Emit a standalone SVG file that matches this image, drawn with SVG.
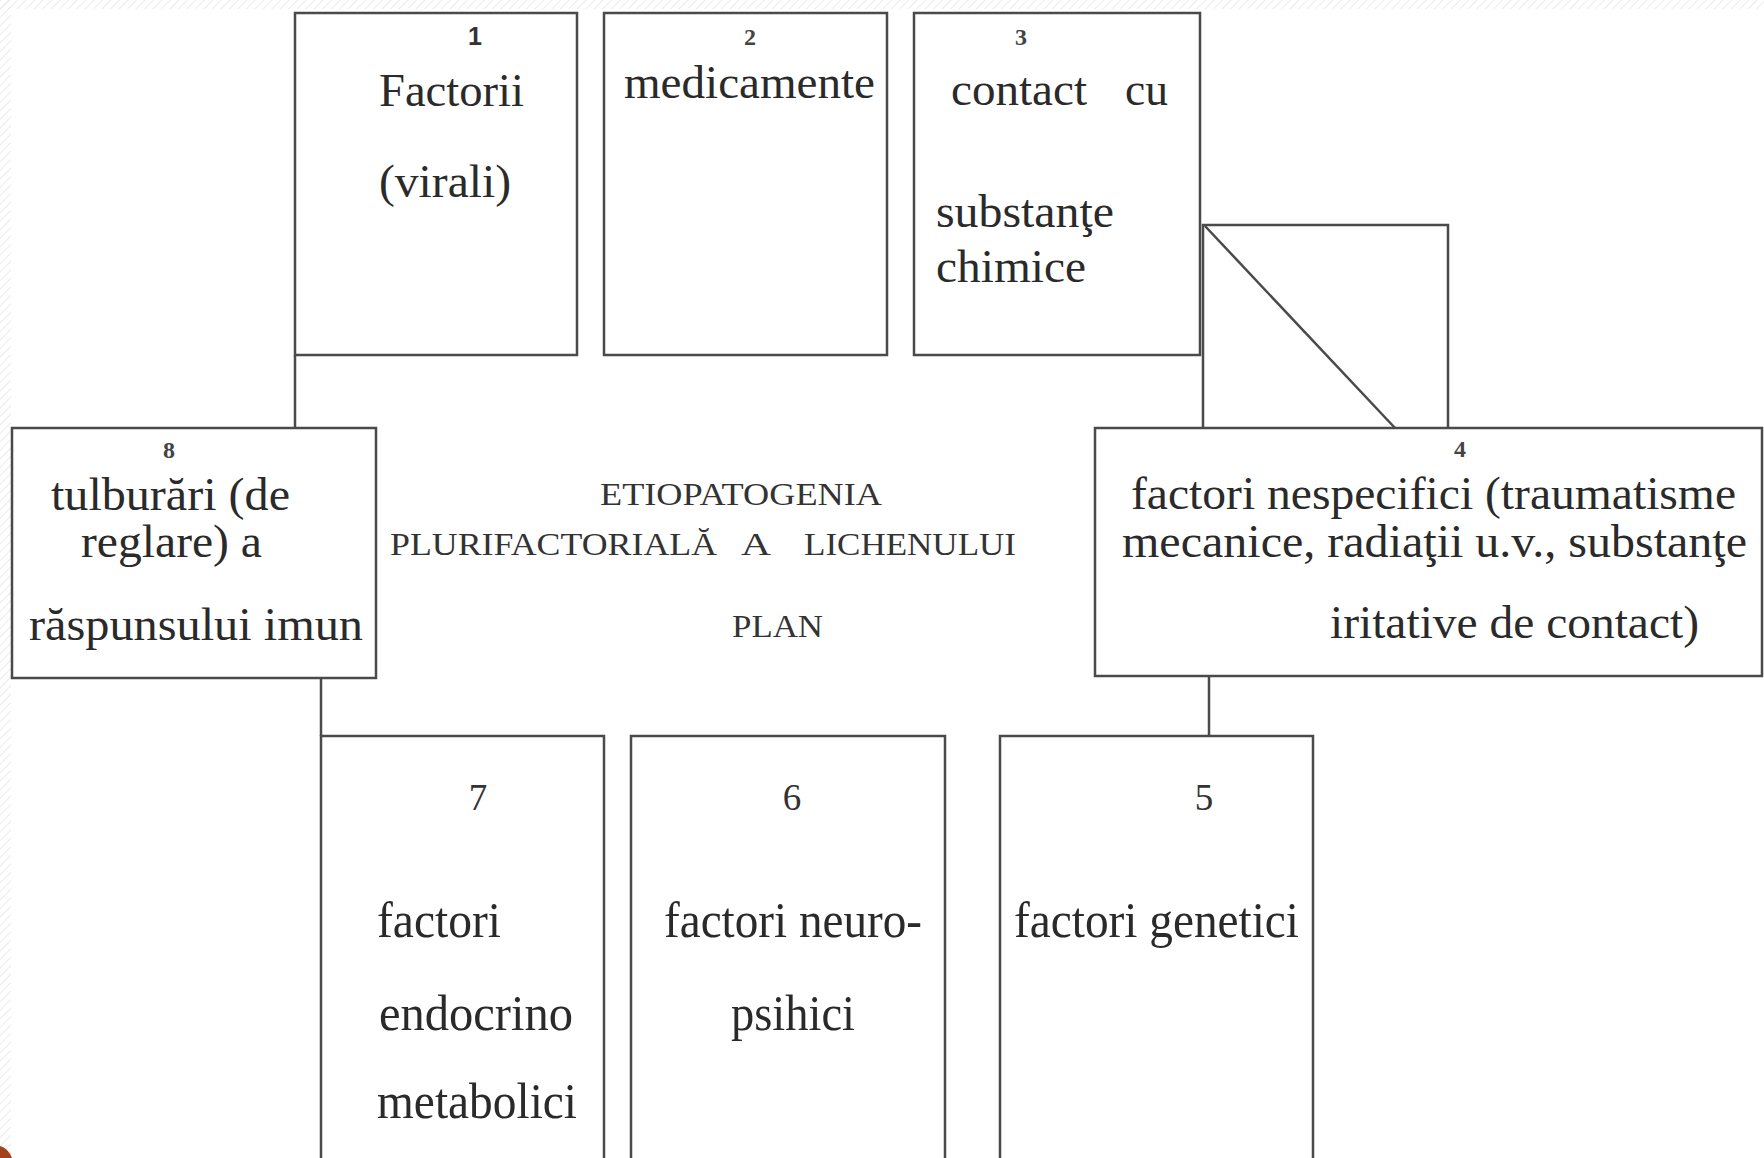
<svg xmlns="http://www.w3.org/2000/svg" width="1764" height="1158" viewBox="0 0 1764 1158">
<defs>
<pattern id="hatch" width="6" height="6" patternUnits="userSpaceOnUse" patternTransform="rotate(45)">
<line x1="0" y1="0" x2="0" y2="6" stroke="#e4e4e4" stroke-width="1.5"/>
</pattern>
</defs>
<style>
.box{fill:none;stroke:#4a4a4a;stroke-width:2.5}
.ln{fill:none;stroke:#4a4a4a;stroke-width:2.5}
.t{font-family:"Liberation Serif","Times New Roman",serif;font-size:47px;fill:#2a2a2a}
.tb{font-family:"Liberation Serif","Times New Roman",serif;font-size:50px;fill:#2a2a2a}
.c{font-family:"Liberation Serif","Times New Roman",serif;font-size:32px;fill:#333}
.n{font-family:"Liberation Serif","Times New Roman",serif;font-size:24px;font-weight:bold;fill:#444;text-anchor:middle}
.nb{font-family:"Liberation Sans",Arial,sans-serif;font-size:25px;font-weight:bold;fill:#333;text-anchor:middle}
.nl{font-family:"Liberation Serif","Times New Roman",serif;font-size:37px;fill:#333;text-anchor:middle}
</style>
<rect x="0" y="0" width="1764" height="1158" fill="#ffffff"/>
<rect x="0" y="0" width="1764" height="9" fill="url(#hatch)"/>
<rect x="0" y="0" width="11" height="1158" fill="url(#hatch)"/>
<path d="M0,1146 Q8,1148 12,1158 L0,1158 Z" fill="#a3421c"/>

<g id="connectors">
<line class="ln" x1="295" y1="355" x2="295" y2="428"/>
<line class="ln" x1="321" y1="678" x2="321" y2="736"/>
<line class="ln" x1="1209" y1="676" x2="1209" y2="736"/>
<polyline class="ln" points="1203,428 1203,225 1448,225 1448,428"/>
<line class="ln" x1="1205" y1="226" x2="1395" y2="428"/>
</g>

<g id="node1">
<rect class="box" x="295" y="13" width="282" height="342"/>
<text class="nb" x="475" y="45">1</text>
<text class="t" x="379" y="106" textLength="145" lengthAdjust="spacingAndGlyphs">Factorii</text>
<text class="t" x="379" y="197" textLength="132" lengthAdjust="spacingAndGlyphs">(virali)</text>
</g>

<g id="node2">
<rect class="box" x="604" y="13" width="283" height="342"/>
<text class="n" x="750" y="45">2</text>
<text class="t" x="624" y="98" textLength="251" lengthAdjust="spacingAndGlyphs">medicamente</text>
</g>

<g id="node3">
<rect class="box" x="914" y="13" width="286" height="342"/>
<text class="n" x="1021" y="45">3</text>
<text class="t" x="951" y="105" textLength="136" lengthAdjust="spacingAndGlyphs">contact</text>
<text class="t" x="1125" y="105" textLength="43" lengthAdjust="spacingAndGlyphs">cu</text>
<text class="t" x="936" y="227" textLength="178" lengthAdjust="spacingAndGlyphs">substanţe</text>
<text class="t" x="936" y="282" textLength="150" lengthAdjust="spacingAndGlyphs">chimice</text>
</g>

<g id="node4">
<rect class="box" x="1095" y="428" width="667" height="248"/>
<text class="n" x="1460" y="457">4</text>
<text class="t" x="1131" y="509" textLength="605" lengthAdjust="spacingAndGlyphs">factori nespecifici (traumatisme</text>
<text class="t" x="1122" y="557" textLength="625" lengthAdjust="spacingAndGlyphs">mecanice, radiaţii u.v., substanţe</text>
<text class="t" x="1330" y="638" textLength="369" lengthAdjust="spacingAndGlyphs">iritative de contact)</text>
</g>

<g id="node8">
<rect class="box" x="12" y="428" width="364" height="250"/>
<text class="n" x="169" y="458">8</text>
<text class="t" x="51" y="510" textLength="239" lengthAdjust="spacingAndGlyphs">tulburări (de</text>
<text class="t" x="81" y="557" textLength="181" lengthAdjust="spacingAndGlyphs">reglare) a</text>
<text class="t" x="29" y="640" textLength="334" lengthAdjust="spacingAndGlyphs">răspunsului imun</text>
</g>

<g id="center">
<text class="c" x="600" y="505" textLength="282" lengthAdjust="spacingAndGlyphs">ETIOPATOGENIA</text>
<text class="c" x="390" y="555" textLength="327" lengthAdjust="spacingAndGlyphs">PLURIFACTORIALĂ</text>
<text class="c" x="741" y="555" textLength="30" lengthAdjust="spacingAndGlyphs">A</text>
<text class="c" x="804" y="555" textLength="212" lengthAdjust="spacingAndGlyphs">LICHENULUI</text>
<text class="c" x="732" y="637" textLength="91" lengthAdjust="spacingAndGlyphs">PLAN</text>
</g>

<g id="node7">
<rect class="box" x="321" y="736" width="283" height="430"/>
<text class="nl" x="478" y="810">7</text>
<text class="tb" x="377" y="937" textLength="124" lengthAdjust="spacingAndGlyphs">factori</text>
<text class="tb" x="379" y="1030" textLength="194" lengthAdjust="spacingAndGlyphs">endocrino</text>
<text class="tb" x="377" y="1118" textLength="200" lengthAdjust="spacingAndGlyphs">metabolici</text>
</g>

<g id="node6">
<rect class="box" x="631" y="736" width="314" height="430"/>
<text class="nl" x="792" y="810">6</text>
<text class="tb" x="664" y="937" textLength="258" lengthAdjust="spacingAndGlyphs">factori neuro-</text>
<text class="tb" x="731" y="1030" textLength="124" lengthAdjust="spacingAndGlyphs">psihici</text>
</g>

<g id="node5">
<rect class="box" x="1000" y="736" width="313" height="430"/>
<text class="nl" x="1204" y="810">5</text>
<text class="tb" x="1014" y="937" textLength="285" lengthAdjust="spacingAndGlyphs">factori genetici</text>
</g>
</svg>
